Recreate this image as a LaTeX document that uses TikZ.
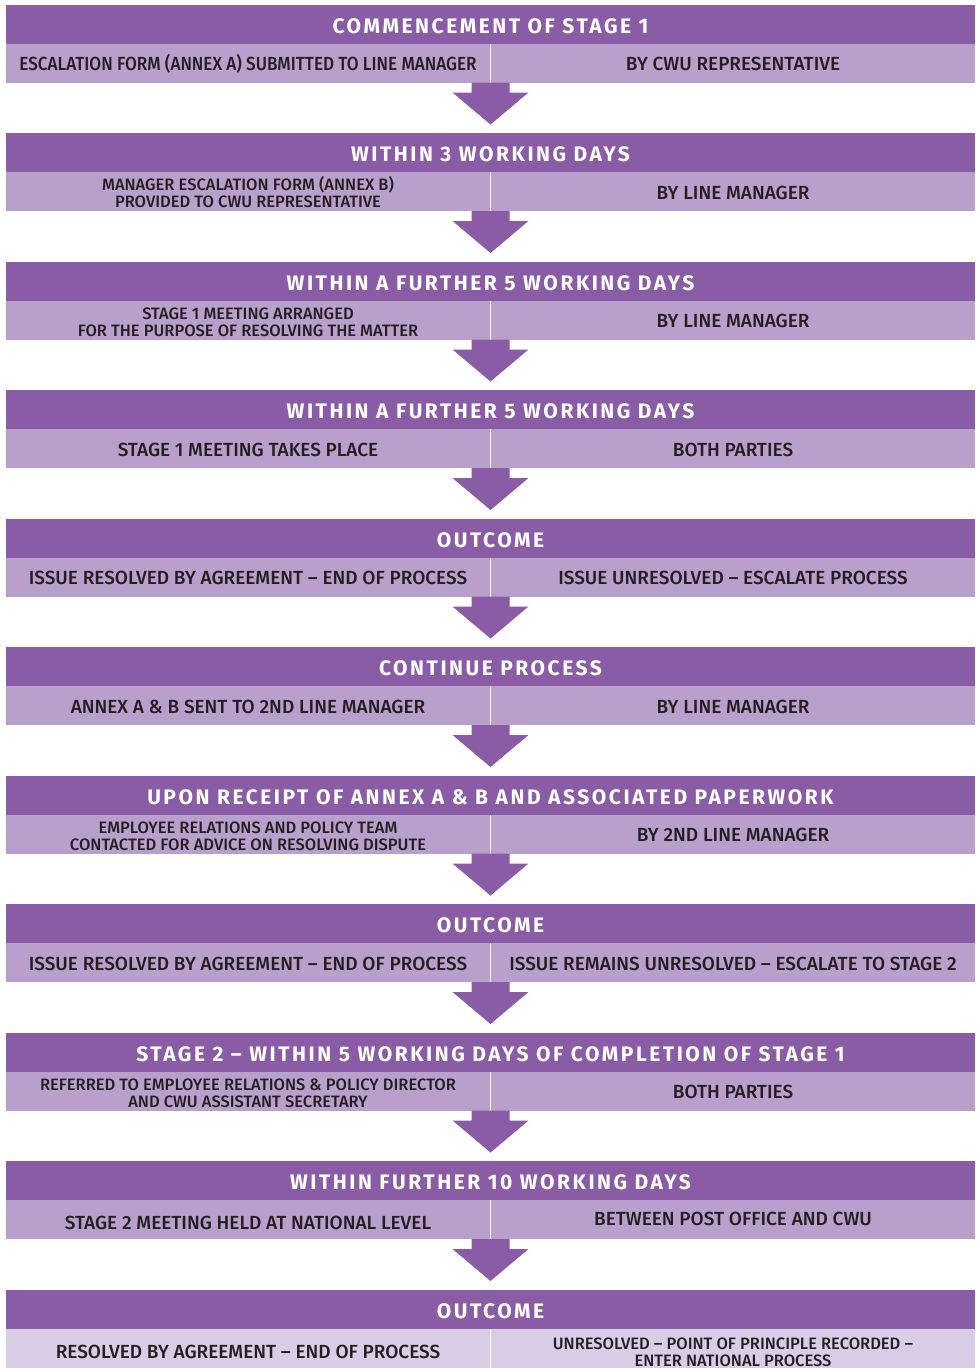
\documentclass[tikz,border=0pt]{standalone}
\usepackage{fontspec}
\setmainfont{Fira Sans}
\newfontfamily\headfont[LetterSpace=12]{Fira Sans}
\newfontfamily\cellfont{Fira Sans Medium}
\usetikzlibrary{positioning,calc}
\definecolor{stagedark}{HTML}{8B5CA6}
\definecolor{stagelight}{HTML}{B9A0CC}
\definecolor{stagepale}{HTML}{D9CCE5}
\definecolor{celltext}{HTML}{231F20}
\tikzset{
  head/.style={fill=stagedark, text=white, minimum width=969pt, minimum height=39pt,
    inner sep=0pt, outer sep=0pt, text height=18pt, text depth=0pt,
    font=\headfont\bfseries\fontsize{21}{21}\selectfont},
  cell/.style={fill=stagelight, text=celltext, minimum width=484pt, minimum height=39pt,
    inner sep=0pt, outer sep=0pt, align=center, text height=15pt, text depth=0pt,
    font=\cellfont\fontsize{19}{17}\selectfont},
  twoline/.style={text height=32pt, font=\cellfont\fontsize{16.5}{17}\selectfont},
  arrowfill/.style={fill=stagedark},
}
\begin{document}
\begin{tikzpicture}[x=1pt,y=1pt]
    \useasboundingbox (0,0) rectangle (980,-1369);
    \node[head, anchor=north] (h1) at (490.5,-4.5) {COMMENCEMENT OF STAGE 1};
    \node[cell, anchor=north west] (l1) at (h1.south west) {\scalebox{0.9}[1]{ESCALATION FORM (ANNEX A) SUBMITTED TO LINE MANAGER}};
    \node[cell, anchor=north east] (r1) at (h1.south east) {BY CWU REPRESENTATIVE};
    \coordinate (d1) at ($(l1.south east)!.5!(r1.south west)$);

    \node[head, below=50.5pt of d1] (h2) {WITHIN 3 WORKING DAYS};
    \node[cell, twoline, anchor=north west] (l2) at (h2.south west) {MANAGER ESCALATION FORM (ANNEX B)\\PROVIDED TO CWU REPRESENTATIVE};
    \node[cell, anchor=north east] (r2) at (h2.south east) {BY LINE MANAGER};
    \coordinate (d2) at ($(l2.south east)!.5!(r2.south west)$);

    \node[head, below=50.5pt of d2] (h3) {WITHIN A FURTHER 5 WORKING DAYS};
    \node[cell, twoline, anchor=north west] (l3) at (h3.south west) {STAGE 1 MEETING ARRANGED\\FOR THE PURPOSE OF RESOLVING THE MATTER};
    \node[cell, anchor=north east] (r3) at (h3.south east) {BY LINE MANAGER};
    \coordinate (d3) at ($(l3.south east)!.5!(r3.south west)$);

    \node[head, below=50.5pt of d3] (h4) {WITHIN A FURTHER 5 WORKING DAYS};
    \node[cell, anchor=north west] (l4) at (h4.south west) {STAGE 1 MEETING TAKES PLACE};
    \node[cell, anchor=north east] (r4) at (h4.south east) {BOTH PARTIES};
    \coordinate (d4) at ($(l4.south east)!.5!(r4.south west)$);

    \node[head, below=50.5pt of d4] (h5) {OUTCOME};
    \node[cell, anchor=north west] (l5) at (h5.south west) {ISSUE RESOLVED BY AGREEMENT – END OF PROCESS};
    \node[cell, anchor=north east] (r5) at (h5.south east) {ISSUE UNRESOLVED – ESCALATE PROCESS};
    \coordinate (d5) at ($(l5.south east)!.5!(r5.south west)$);

    \node[head, below=50.5pt of d5] (h6) {CONTINUE PROCESS};
    \node[cell, anchor=north west] (l6) at (h6.south west) {ANNEX A \& B SENT TO 2ND LINE MANAGER};
    \node[cell, anchor=north east] (r6) at (h6.south east) {BY LINE MANAGER};
    \coordinate (d6) at ($(l6.south east)!.5!(r6.south west)$);

    \node[head, below=50.5pt of d6] (h7) {UPON RECEIPT OF ANNEX A \& B AND ASSOCIATED PAPERWORK};
    \node[cell, twoline, anchor=north west] (l7) at (h7.south west) {EMPLOYEE RELATIONS AND POLICY TEAM\\CONTACTED FOR ADVICE ON RESOLVING DISPUTE};
    \node[cell, anchor=north east] (r7) at (h7.south east) {BY 2ND LINE MANAGER};
    \coordinate (d7) at ($(l7.south east)!.5!(r7.south west)$);

    \node[head, below=50.5pt of d7] (h8) {OUTCOME};
    \node[cell, anchor=north west] (l8) at (h8.south west) {ISSUE RESOLVED BY AGREEMENT – END OF PROCESS};
    \node[cell, anchor=north east] (r8) at (h8.south east) {ISSUE REMAINS UNRESOLVED – ESCALATE TO STAGE 2};
    \coordinate (d8) at ($(l8.south east)!.5!(r8.south west)$);

    \node[head, below=50.5pt of d8] (h9) {STAGE 2 – WITHIN 5 WORKING DAYS OF COMPLETION OF STAGE 1};
    \node[cell, twoline, anchor=north west] (l9) at (h9.south west) {REFERRED TO EMPLOYEE RELATIONS \& POLICY DIRECTOR\\AND CWU ASSISTANT SECRETARY};
    \node[cell, anchor=north east] (r9) at (h9.south east) {BOTH PARTIES};
    \coordinate (d9) at ($(l9.south east)!.5!(r9.south west)$);

    \node[head, below=50.5pt of d9] (h10) {WITHIN FURTHER 10 WORKING DAYS};
    \node[cell, anchor=north west] (l10) at (h10.south west) {\raisebox{-2pt}{STAGE 2 MEETING HELD AT NATIONAL LEVEL}};
    \node[cell, anchor=north east] (r10) at (h10.south east) {\raisebox{2pt}{BETWEEN POST OFFICE AND CWU}};
    \coordinate (d10) at ($(l10.south east)!.5!(r10.south west)$);

    \node[head, below=50.5pt of d10] (h11) {OUTCOME};
    \node[cell, fill=stagepale, anchor=north west] (l11) at (h11.south west) {\raisebox{-2.5pt}{RESOLVED BY AGREEMENT – END OF PROCESS}};
    \node[cell, twoline, text height=36pt, fill=stagepale, anchor=north east] (r11) at (h11.south east) {UNRESOLVED – POINT OF PRINCIPLE RECORDED –\\ENTER NATIONAL PROCESS};

    \foreach \i in {1,...,10}
      \fill[arrowfill] (d\i) +(-19,0) -- +(19,0) -- +(19,-10) -- +(38,-10) -- +(0,-42)
        -- +(-38,-10) -- +(-19,-10) -- cycle;
\end{tikzpicture}
\end{document}
